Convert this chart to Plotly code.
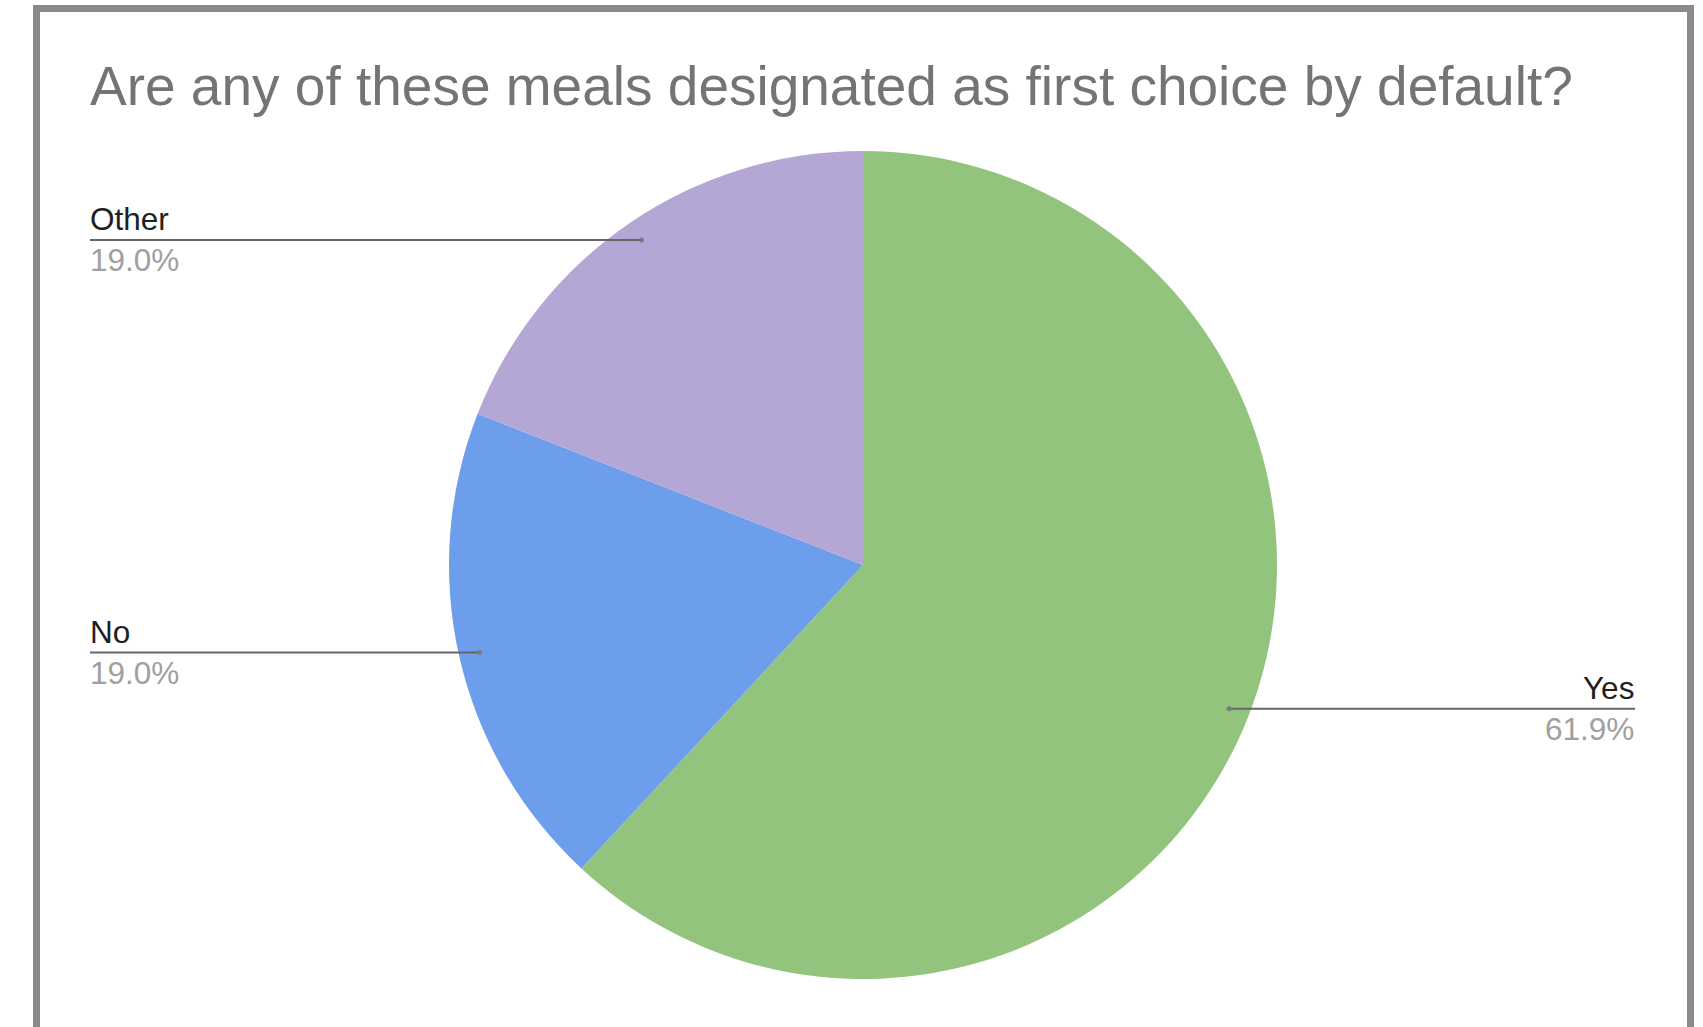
import math
import plotly.graph_objects as go

# Survey answers: "Are any of these meals designated as first choice by default?"
categories = ["Yes", "No", "Other"]
counts = [13, 4, 4]
slice_colors = ["#93c47d", "#6d9eeb", "#b4a7d6"]
title_text = "Are any of these meals designated as first choice by default?"

W, H = 1703, 1027

# Pie placement in pixels
cx, cy, R = 863, 565, 414


def px_x(x):
    return x / W


def px_y(y):
    return 1 - y / H


fig = go.Figure(
    go.Pie(
        labels=categories,
        values=counts,
        sort=False,
        direction="clockwise",
        rotation=0,
        marker=dict(colors=slice_colors, line=dict(width=0)),
        textinfo="none",
        hoverinfo="label+percent",
        domain=dict(x=[px_x(cx - R), px_x(cx + R)], y=[px_y(cy + R), px_y(cy - R)]),
        showlegend=False,
    )
)

shapes = []
annotations = []

# Outer grey frame
shapes.append(
    dict(
        type="rect", xref="paper", yref="paper",
        x0=px_x(36.5), x1=px_x(1690.5), y0=px_y(1060), y1=px_y(8.5),
        line=dict(color="#8a8a8a", width=7), fillcolor="rgba(0,0,0,0)", layer="above",
    )
)

# Title
annotations.append(
    dict(
        text=title_text, xref="paper", yref="paper",
        x=px_x(88), y=px_y(86), xanchor="left", yanchor="middle", showarrow=False,
        font=dict(family="Liberation Sans, Arial, sans-serif", size=55, color="#747474"),
    )
)

# Leader-line labels anchored at each slice's middle angle
total = sum(counts)
label_side = {"Yes": ("right", 1636), "No": ("left", 88), "Other": ("left", 88)}
line_end = {"Yes": 1635, "No": 90, "Other": 90}
cum = 0
for name, v in zip(categories, counts):
    mid = (cum + v / 2) / total * 2 * math.pi
    cum += v
    ax = cx + 0.95 * R * math.sin(mid)
    ay = cy - 0.95 * R * math.cos(mid)
    side, edge = label_side[name]
    shapes.append(
        dict(
            type="line", xref="paper", yref="paper",
            x0=px_x(ax), y0=px_y(ay), x1=px_x(line_end[name]), y1=px_y(ay),
            line=dict(color="#666666", width=2), layer="above",
        )
    )
    shapes.append(
        dict(
            type="circle", xref="paper", yref="paper",
            x0=px_x(ax - 2.5), x1=px_x(ax + 2.5), y0=px_y(ay + 2.5), y1=px_y(ay - 2.5),
            line=dict(width=0), fillcolor="#7a7a7a", layer="above",
        )
    )
    pct = f"{v / total * 100:.1f}%"
    annotations.append(
        dict(
            text=name, xref="paper", yref="paper",
            x=px_x(edge), y=px_y(ay - 21), xanchor=side, yanchor="middle", showarrow=False,
            font=dict(family="Liberation Sans, Arial, sans-serif", size=31.5, color="#1f1f1f"),
        )
    )
    annotations.append(
        dict(
            text=pct, xref="paper", yref="paper",
            x=px_x(edge), y=px_y(ay + 20), xanchor=side, yanchor="middle", showarrow=False,
            font=dict(family="Liberation Sans, Arial, sans-serif", size=31.5, color="#a0a0a0"),
        )
    )

fig.update_layout(
    width=W, height=H,
    margin=dict(l=0, r=0, t=0, b=0),
    paper_bgcolor="white", plot_bgcolor="white",
    shapes=shapes, annotations=annotations,
)

fig.write_html(
    "out.html",
    post_script="document.body.style.margin='0';document.body.style.overflow='hidden';",
)
